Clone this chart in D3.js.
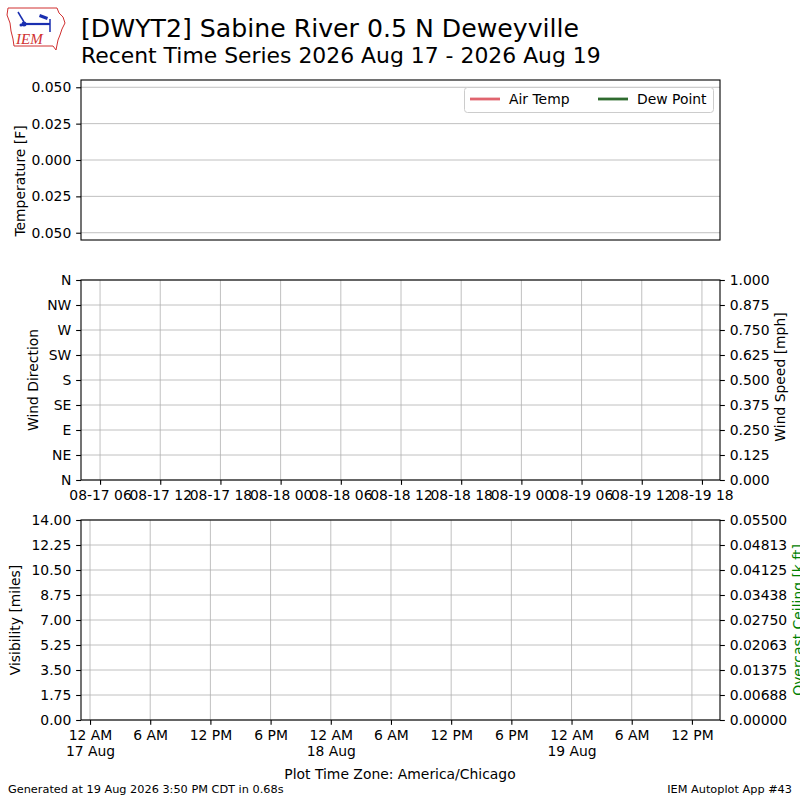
<!DOCTYPE html>
<html>
  <head>
    <style>
      body { margin: 0; background: #fff; }
      text { font-family: "DejaVu Sans", sans-serif; fill: #000; }
      .tick text { font-size: 13.9px; }
      .grid line { stroke: #b0b0b0; stroke-width: 0.8px; }
      .axis path, .axis line { stroke: #000; stroke-width: 1.1px; }
    </style>
  </head>
  <body>
    <div id="chart"></div>
    <script src="https://d3js.org/d3.v7.min.js"></script>
    <script>
      // station / title
      const titleLines = [
        "[DWYT2] Sabine River 0.5 N Deweyville",
        "Recent Time Series 2026 Aug 17 - 2026 Aug 19",
      ];
      // plotted time window (UTC)
      const timeDomain = ["2026-08-17T04:06:00Z", "2026-08-19T19:48:00Z"];
      // wind panel ticks, labelled in UTC
      const utcTicks = [
        "2026-08-17T06:00Z", "2026-08-17T12:00Z", "2026-08-17T18:00Z",
        "2026-08-18T00:00Z", "2026-08-18T06:00Z", "2026-08-18T12:00Z",
        "2026-08-18T18:00Z", "2026-08-19T00:00Z", "2026-08-19T06:00Z",
        "2026-08-19T12:00Z", "2026-08-19T18:00Z",
      ];
      // bottom panel ticks, labelled in America/Chicago (CDT = UTC-5)
      const localTicks = [
        "2026-08-17T05:00Z", "2026-08-17T11:00Z", "2026-08-17T17:00Z",
        "2026-08-17T23:00Z", "2026-08-18T05:00Z", "2026-08-18T11:00Z",
        "2026-08-18T17:00Z", "2026-08-18T23:00Z", "2026-08-19T05:00Z",
        "2026-08-19T11:00Z", "2026-08-19T17:00Z",
      ];
      const cdtOffsetHours = -5;

      const tempDomain = [-0.055, 0.055];
      const tempTicks = [0.05, 0.025, 0, -0.025, -0.05];
      const tempTickLabels = ["0.050", "0.025", "0.000", "0.025", "0.050"];
      const legendNames = ["Air Temp", "Dew Point"];
      const legendColors = ["#e0646e", "#2f6b2f"];

      const dirTicks = [0, 45, 90, 135, 180, 225, 270, 315, 360];
      const dirLabels = ["N", "NE", "E", "SE", "S", "SW", "W", "NW", "N"];
      const speedTicks = [0, 0.125, 0.25, 0.375, 0.5, 0.625, 0.75, 0.875, 1];

      const visTicks = [0, 1.75, 3.5, 5.25, 7, 8.75, 10.5, 12.25, 14];
      const ceilTicks = [0, 0.006875, 0.01375, 0.020625, 0.0275, 0.034375, 0.04125, 0.048125, 0.055];
      const ceilTickLabels = ["0.00000", "0.00688", "0.01375", "0.02063", "0.02750", "0.03438", "0.04125", "0.04813", "0.05500"];

      const W = 800, H = 800;
      const left = 81, right = 720;
      const tk = 4.86; // tick length and pad

      const svg = d3.select("#chart").append("svg")
        .attr("width", W).attr("height", H);

      const x = d3.scaleUtc().domain(timeDomain.map((d) => new Date(d))).range([left, right]);

      // ---------- logo ----------
      const logo = svg.append("g");
      logo.append("path")
        .attr("d", "M8,8 L57,8 L59,13 L63,17 L65,23 L62,29 L60,35 L58,40 L57,45 L56,50 L53,46 L14,46 L13,39 L11,31 L10,23 L7,15 Z")
        .attr("fill", "#fff").attr("stroke", "#d03030").attr("stroke-width", 1);
      logo.append("line").attr("x1", 23).attr("y1", 24).attr("x2", 50).attr("y2", 24)
        .attr("stroke", "#1a2fb0").attr("stroke-width", 2.2);
      logo.append("line").attr("x1", 18).attr("y1", 12).attr("x2", 24).attr("y2", 22)
        .attr("stroke", "#1a2fb0").attr("stroke-width", 1.5);
      logo.append("path").attr("d", "M40,14 L48,17 L47,20 L39,17 Z").attr("fill", "#1a2fb0");
      logo.append("line").attr("x1", 50).attr("y1", 19).attr("x2", 50).attr("y2", 32)
        .attr("stroke", "#1a2fb0").attr("stroke-width", 1.5);
      logo.append("circle").attr("cx", 24).attr("cy", 24).attr("r", 2.5).attr("fill", "#1a2fb0");
      logo.append("circle").attr("cx", 21).attr("cy", 25).attr("r", 1.5).attr("fill", "#1a2fb0");
      logo.append("text").attr("x", 16).attr("y", 44)
        .style("font-family", "'Liberation Serif', serif").style("font-style", "italic")
        .style("font-size", "15px").style("fill", "#d03030").text("IEM");

      // ---------- titles ----------
      svg.append("text").attr("x", 81).attr("y", 37).style("font-size", "25.2px").text(titleLines[0]);
      svg.append("text").attr("x", 81).attr("y", 63).style("font-size", "21.9px").text(titleLines[1]);

      function frame(top, bottom) {
        svg.append("rect").attr("x", left).attr("y", top)
          .attr("width", right - left).attr("height", bottom - top)
          .attr("fill", "none").attr("stroke", "#000").attr("stroke-width", 1.1);
      }
      function ylabel(txt, cx, cy, color) {
        svg.append("text")
          .attr("transform", "translate(" + cx + "," + cy + ") rotate(-90)")
          .attr("text-anchor", "middle").style("font-size", "13.9px")
          .style("fill", color || "#000").text(txt);
      }

      // ---------- temperature panel ----------
      const tTop = 80, tBot = 240;
      const yT = d3.scaleLinear().domain(tempDomain).range([tBot, tTop]);
      svg.append("g").attr("class", "grid").selectAll("line").data(tempTicks).join("line")
        .attr("x1", left).attr("x2", right).attr("y1", (d) => yT(d)).attr("y2", (d) => yT(d));
      svg.append("g").attr("class", "axis").attr("transform", "translate(" + left + ",0)")
        .call(d3.axisLeft(yT).tickValues(tempTicks).tickSize(tk).tickPadding(tk)
          .tickFormat((d, i) => tempTickLabels[i]))
        .call((g) => g.select(".domain").remove());
      frame(tTop, tBot);
      ylabel("Temperature [F]", 25, 181);

      // legend
      const lg = svg.append("g");
      lg.append("rect").attr("x", 464.5).attr("y", 87.5).attr("width", 249).attr("height", 25)
        .attr("rx", 3).attr("fill", "#fff").attr("fill-opacity", 0.8)
        .attr("stroke", "#cccccc").attr("stroke-width", 1);
      const legX = [470, 598];
      legendNames.forEach((n, i) => {
        lg.append("line").attr("x1", legX[i]).attr("x2", legX[i] + 30).attr("y1", 99).attr("y2", 99)
          .attr("stroke", legendColors[i]).attr("stroke-width", 2.8);
        lg.append("text").attr("x", legX[i] + 39).attr("y", 104).style("font-size", "13.9px").text(n);
      });

      // ---------- wind panel ----------
      const wTop = 280, wBot = 480;
      const yD = d3.scaleLinear().domain([0, 360]).range([wBot, wTop]);
      const yS = d3.scaleLinear().domain([0, 1]).range([wBot, wTop]);
      const wg = svg.append("g").attr("class", "grid");
      wg.selectAll(".h").data(dirTicks).join("line").attr("class", "h")
        .attr("x1", left).attr("x2", right).attr("y1", (d) => yD(d)).attr("y2", (d) => yD(d));
      wg.selectAll(".v").data(utcTicks).join("line").attr("class", "v")
        .attr("x1", (d) => x(new Date(d))).attr("x2", (d) => x(new Date(d)))
        .attr("y1", wTop).attr("y2", wBot);
      svg.append("g").attr("class", "axis").attr("transform", "translate(" + left + ",0)")
        .call(d3.axisLeft(yD).tickValues(dirTicks).tickSize(tk).tickPadding(tk)
          .tickFormat((d, i) => dirLabels[i]))
        .call((g) => g.select(".domain").remove());
      svg.append("g").attr("class", "axis").attr("transform", "translate(" + right + ",0)")
        .call(d3.axisRight(yS).tickValues(speedTicks).tickSize(tk).tickPadding(tk)
          .tickFormat(d3.format(".3f")))
        .call((g) => g.select(".domain").remove());
      svg.append("g").attr("class", "axis").attr("transform", "translate(0," + wBot + ")")
        .call(d3.axisBottom(x).tickValues(utcTicks.map((d) => new Date(d))).tickSize(tk).tickPadding(tk)
          .tickFormat(d3.utcFormat("%m-%d %H")))
        .call((g) => g.select(".domain").remove());
      frame(wTop, wBot);
      ylabel("Wind Direction", 38, 380);
      ylabel("Wind Speed [mph]", 785, 377);

      // ---------- visibility / ceiling panel ----------
      const vTop = 520, vBot = 720;
      const yV = d3.scaleLinear().domain([0, 14]).range([vBot, vTop]);
      const yC = d3.scaleLinear().domain([0, 0.055]).range([vBot, vTop]);
      const vg = svg.append("g").attr("class", "grid");
      vg.selectAll(".h").data(visTicks).join("line").attr("class", "h")
        .attr("x1", left).attr("x2", right).attr("y1", (d) => yV(d)).attr("y2", (d) => yV(d));
      vg.selectAll(".v").data(localTicks).join("line").attr("class", "v")
        .attr("x1", (d) => x(new Date(d))).attr("x2", (d) => x(new Date(d)))
        .attr("y1", vTop).attr("y2", vBot);
      svg.append("g").attr("class", "axis").attr("transform", "translate(" + left + ",0)")
        .call(d3.axisLeft(yV).tickValues(visTicks).tickSize(tk).tickPadding(tk)
          .tickFormat(d3.format(".2f")))
        .call((g) => g.select(".domain").remove());
      svg.append("g").attr("class", "axis").attr("transform", "translate(" + right + ",0)")
        .call(d3.axisRight(yC).tickValues(ceilTicks).tickSize(tk).tickPadding(tk)
          .tickFormat((d, i) => ceilTickLabels[i]))
        .call((g) => g.select(".domain").remove());
      const toLocal = (d) => new Date(+d + cdtOffsetHours * 3600e3);
      const bx = svg.append("g").attr("class", "axis").attr("transform", "translate(0," + vBot + ")")
        .call(d3.axisBottom(x).tickValues(localTicks.map((d) => new Date(d))).tickSize(tk).tickPadding(tk)
          .tickFormat((d) => d3.utcFormat("%-I %p")(toLocal(d))))
        .call((g) => g.select(".domain").remove());
      bx.selectAll(".tick text").each(function (d) {
        const l = toLocal(d);
        if (l.getUTCHours() === 0) {
          d3.select(this).append("tspan").attr("x", 0).attr("dy", "1.15em")
            .text(d3.utcFormat("%-d %b")(l));
        }
      });
      frame(vTop, vBot);
      ylabel("Visibility [miles]", 20, 620);
      ylabel("Overcast Ceiling [k ft]", 803, 620, "#008000");

      // ---------- footer ----------
      svg.append("text").attr("x", 400).attr("y", 779).attr("text-anchor", "middle")
        .style("font-size", "13.9px").text("Plot Time Zone: America/Chicago");
      svg.append("text").attr("x", 8).attr("y", 793).style("font-size", "11.3px")
        .text("Generated at 19 Aug 2026 3:50 PM CDT in 0.68s");
      svg.append("text").attr("x", 792).attr("y", 793).attr("text-anchor", "end")
        .style("font-size", "11.3px").text("IEM Autoplot App #43");
    </script>
  </body>
</html>
